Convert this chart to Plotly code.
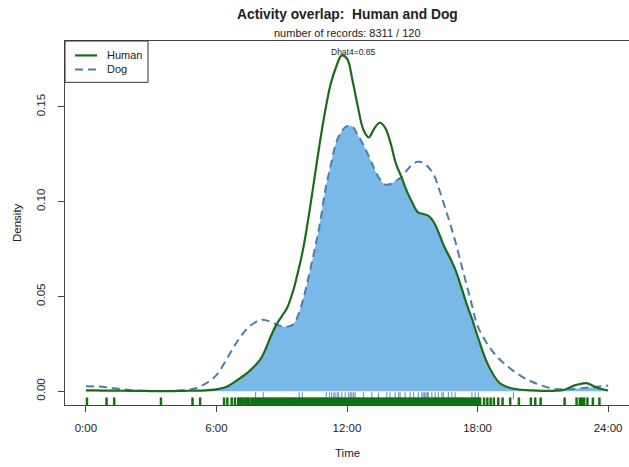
import numpy as np
import plotly.graph_objects as go

# ---------------- data ----------------
hours = [0, 0.5, 1, 1.5, 2, 2.5, 3, 3.5, 4, 4.5, 5, 5.5, 6, 6.5, 7, 7.5,
         8, 8.25, 8.5, 8.75, 9, 9.25, 9.5, 9.75, 10, 10.25, 10.5, 10.75,
         11, 11.25, 11.5, 11.75, 12, 12.25, 12.5, 12.75, 13, 13.25, 13.5, 13.75,
         14, 14.25, 14.5, 14.75, 15, 15.25, 15.5, 15.75, 16, 16.25, 16.5, 16.75,
         17, 17.25, 17.5, 17.75, 18, 18.5, 19, 19.5, 20, 20.5, 21, 21.5,
         22, 22.5, 23, 23.5, 24]

human_density = [0.0004, 0.0004, 0.0003, 0.0003, 0.0002, 0.0002, 0.0001, 0.0001,
                 0.0001, 0.0002, 0.0003, 0.0005, 0.0010, 0.0025, 0.0062, 0.0105,
                 0.0165, 0.0220, 0.0290, 0.0350, 0.0395, 0.0440, 0.0520, 0.0630,
                 0.0760, 0.0930, 0.1120, 0.1310, 0.1480, 0.1620, 0.1710, 0.1770,
                 0.1755, 0.1640, 0.1500, 0.1380, 0.1338, 0.1385, 0.1416, 0.1390,
                 0.1310, 0.1200, 0.1130, 0.1055, 0.0995, 0.0945, 0.0935, 0.0925,
                 0.0890, 0.0825, 0.0755, 0.0700, 0.0635, 0.0550, 0.0460, 0.0380,
                 0.0290, 0.0135, 0.0045, 0.0017, 0.0008, 0.0004, 0.0002, 0.0002,
                 0.0008, 0.0032, 0.0043, 0.0018, 0.0004]

dog_density = [0.0026, 0.0025, 0.0020, 0.0013, 0.0007, 0.0003, 0.0001, 0.0001,
               0.0002, 0.0005, 0.0014, 0.0040, 0.0085, 0.0175, 0.0270, 0.0340,
               0.0375, 0.0375, 0.0365, 0.0352, 0.0343, 0.0340, 0.0350, 0.0400,
               0.0490, 0.0610, 0.0740, 0.0880, 0.1060, 0.1190, 0.1310, 0.1370,
               0.1398, 0.1395, 0.1350, 0.1300, 0.1240, 0.1175, 0.1120, 0.1090,
               0.1093, 0.1110, 0.1130, 0.1165, 0.1195, 0.1210, 0.1205, 0.1180,
               0.1140, 0.1060, 0.0970, 0.0880, 0.0780, 0.0670, 0.0560, 0.0450,
               0.0345, 0.0240, 0.0170, 0.0120, 0.0080, 0.0050, 0.0028, 0.0013,
               0.0010, 0.0013, 0.0018, 0.0024, 0.0030]

human_records = [0.05, 0.95, 1.3, 3.45, 4.9, 5.25, 6.35, 6.5, 6.7, 6.85,
                 7.0, 7.06, 7.14, 7.2, 7.29, 7.37, 7.43, 7.5, 7.61, 7.68, 7.74, 7.83, 7.9, 7.97,
                 8.05, 8.11, 8.19, 8.26, 8.33, 8.41, 8.48, 8.55, 8.63, 8.7, 8.77, 8.84, 8.92, 8.99,
                 9.06, 9.13, 9.21, 9.28, 9.35, 9.42, 9.5, 9.57, 9.64, 9.71, 9.79, 9.86, 9.93,
                 10.0, 10.07, 10.15, 10.22, 10.29, 10.36, 10.44, 10.51, 10.58, 10.65, 10.73, 10.8,
                 10.87, 10.94, 11.02, 11.09, 11.16, 11.23, 11.31, 11.38, 11.45, 11.52, 11.6, 11.67,
                 11.74, 11.81, 11.89, 11.96, 12.03, 12.1, 12.18, 12.25, 12.32, 12.39, 12.47, 12.54,
                 12.61, 12.68, 12.76, 12.83, 12.9, 12.97, 13.05, 13.12, 13.19, 13.26, 13.34, 13.41,
                 13.48, 13.55, 13.63, 13.7, 13.77, 13.84, 13.92, 13.99, 14.06, 14.13, 14.21, 14.28,
                 14.35, 14.42, 14.5, 14.57, 14.64, 14.71, 14.79, 14.86, 14.93, 15.0, 15.08, 15.15,
                 15.22, 15.29, 15.37, 15.44, 15.51, 15.58, 15.66, 15.73, 15.8, 15.87, 15.95, 16.02,
                 16.09, 16.16, 16.24, 16.31, 16.38, 16.45, 16.53, 16.6, 16.67, 16.74, 16.82, 16.89,
                 16.96, 17.03, 17.11, 17.18, 17.25, 17.32, 17.4, 17.47, 17.54, 17.61, 17.69, 17.76,
                 17.83, 17.9, 17.98, 18.05, 18.12,
                 18.3, 18.45, 18.6, 18.75, 18.95, 19.15, 19.5, 19.9, 20.45, 20.65, 20.9,
                 22.0, 22.55, 22.7, 22.8, 22.9, 23.05, 23.3, 23.6]

dog_records = [7.8, 8.15, 9.8, 9.95, 11.05, 11.2, 11.3, 11.4, 11.45, 11.55, 11.62, 11.76,
               11.92, 12.07, 12.15, 12.22, 12.3, 12.38, 12.76, 13.14, 13.45, 13.83, 13.98,
               14.21, 14.37, 14.44, 14.67, 14.9, 15.06, 15.28, 15.44, 15.5, 15.57, 15.63,
               15.7, 15.74, 15.9, 16.05, 16.2, 16.36, 16.43, 16.66, 16.82, 16.97, 17.74,
               17.89, 18.04, 19.65]

tick_hours = [0, 6, 12, 18, 24]
tick_labels = ["0:00", "6:00", "12:00", "18:00", "24:00"]
y_ticks = [0.00, 0.05, 0.10, 0.15]
y_tick_labels = ["0.00", "0.05", "0.10", "0.15"]
legend_names = ["Human", "Dog"]

# ---------------- styles ----------------
FONT = "Liberation Sans, Arial, Helvetica, sans-serif"
GREEN = "#1c6b1c"
DOG = "#4f7ba8"
DOG_RUG = "#7199c2"
FILL = "#7ab9e7"
TEXT = "#222222"
DOG_DASH = "8px,5px"

overlap = np.minimum(np.array(human_density), np.array(dog_density))

fig = go.Figure()

fig.add_trace(go.Scatter(x=hours, y=overlap, mode="lines", fill="tozeroy",
                         fillcolor=FILL, line=dict(width=0, shape="spline", color=FILL),
                         showlegend=False, hoverinfo="skip"))

fig.add_trace(go.Scatter(x=dog_records, y=[-0.0024] * len(dog_records), mode="markers",
                         marker=dict(symbol="line-ns", size=5,
                                     line=dict(width=1.2, color=DOG_RUG)),
                         showlegend=False, hoverinfo="skip"))
fig.add_trace(go.Scatter(x=human_records, y=[-0.0055] * len(human_records), mode="markers",
                         marker=dict(symbol="line-ns", size=6,
                                     line=dict(width=2.5, color="#137013")),
                         showlegend=False, hoverinfo="skip"))

fig.add_trace(go.Scatter(x=hours, y=dog_density, mode="lines", name=legend_names[1],
                         line=dict(color=DOG, width=2.0, dash=DOG_DASH, shape="spline"),
                         showlegend=False))
fig.add_trace(go.Scatter(x=hours, y=human_density, mode="lines", name=legend_names[0],
                         line=dict(color=GREEN, width=2.2, shape="spline"),
                         showlegend=False))

# ---- R-style legend box (drawn in paper coordinates) ----
PW, PH = 564.0, 365.5        # plot area size in px
def px_x(p):                 # px offset from plot left -> paper
    return p / PW
def px_y(p):                 # px offset from plot top -> paper
    return 1 - p / PH

shapes = [
    dict(type="rect", xref="paper", yref="paper", x0=0, x1=px_x(83), y0=px_y(41.5), y1=1,
         line=dict(color="#333333", width=1), fillcolor="white", layer="above"),
    dict(type="line", xref="paper", yref="paper", x0=px_x(10), x1=px_x(32),
         y0=px_y(14.5), y1=px_y(14.5), line=dict(color=GREEN, width=2.2), layer="above"),
    dict(type="line", xref="paper", yref="paper", x0=px_x(10), x1=px_x(32),
         y0=px_y(28.5), y1=px_y(28.5), line=dict(color=DOG, width=2.0, dash=DOG_DASH),
         layer="above"),
]

annotations = [
    dict(text="<b>Activity overlap:\u00a0 Human and Dog</b>", xref="paper", yref="paper",
         x=0.5, y=1, yshift=27, xanchor="center", yanchor="middle", showarrow=False,
         font=dict(size=13.8, family=FONT, color=TEXT)),
    dict(text="number of records: 8311 / 120", xref="paper", yref="paper",
         x=0.5, y=1, yshift=8, xanchor="center", yanchor="middle", showarrow=False,
         font=dict(size=11, family=FONT, color=TEXT)),
    dict(text="Dhat4=0.85", x=12.28, xref="x", y=1, yref="paper", yshift=-11,
         xanchor="center", yanchor="middle", showarrow=False,
         font=dict(size=8.5, family=FONT, color=TEXT)),
    dict(text="Time", xref="paper", yref="paper", x=0.5, y=0, yshift=-47.5,
         xanchor="center", yanchor="middle", showarrow=False,
         font=dict(size=11.5, family=FONT, color=TEXT)),
    dict(text="Density", xref="paper", yref="paper", x=0, xshift=-48, y=0.5,
         xanchor="center", yanchor="middle", textangle=-90, showarrow=False,
         font=dict(size=11.5, family=FONT, color=TEXT)),
    dict(text=legend_names[0], xref="paper", yref="paper", x=px_x(40), y=px_y(14.5),
         xanchor="left", yanchor="middle", showarrow=False,
         font=dict(size=11, family=FONT, color=TEXT)),
    dict(text=legend_names[1], xref="paper", yref="paper", x=px_x(40), y=px_y(28.5),
         xanchor="left", yanchor="middle", showarrow=False,
         font=dict(size=11, family=FONT, color=TEXT)),
]

fig.update_layout(
    width=629, height=467,
    margin=dict(l=65, r=0, t=41, b=61.5),
    paper_bgcolor="white", plot_bgcolor="white",
    font=dict(family=FONT, size=11, color=TEXT),
    showlegend=False,
    xaxis=dict(range=[-0.96, 24.96], tickvals=tick_hours, ticktext=tick_labels,
               showgrid=False, zeroline=False, showline=True, linecolor="#444444",
               linewidth=1, mirror=True, ticks="outside", ticklen=6, tickcolor="#444444",
               tickfont=dict(size=11.5, family=FONT, color=TEXT), ticklabelstandoff=6),
    yaxis=dict(range=[-0.00726, 0.1847], tickvals=y_ticks, ticktext=y_tick_labels,
               showgrid=False, zeroline=False, showline=True, linecolor="#444444",
               linewidth=1, mirror=True, ticks="outside", ticklen=6, tickcolor="#444444",
               tickangle=-90, tickfont=dict(size=11.5, family=FONT, color=TEXT),
               ticklabelstandoff=8),
    shapes=shapes,
    annotations=annotations,
)

fig.write_html("out.html")
